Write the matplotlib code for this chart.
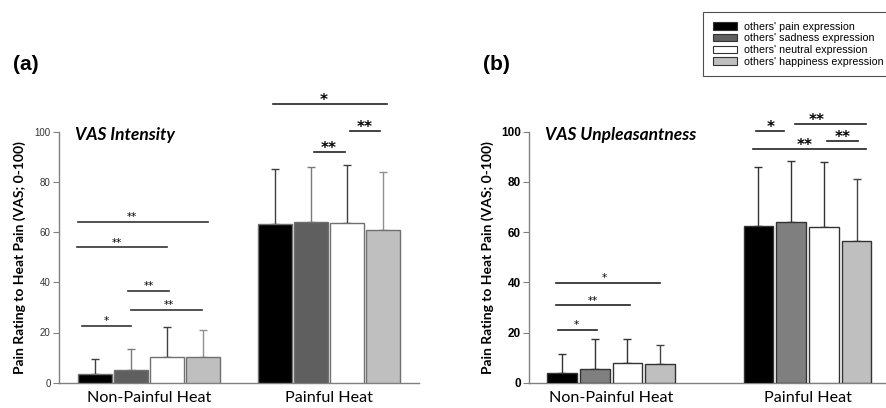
import numpy as np
import matplotlib.pyplot as plt
from matplotlib.patches import Patch

groups = ['Non-Painful Heat', 'Painful Heat']
conds = ["others' pain expression", "others' sadness expression",
         "others' neutral expression", "others' happiness expression"]

# panel (a) VAS intensity: mean and mean+SD per condition
int_np = [3.5, 5.1, 10.1, 10.1]
int_np_top = [9.3, 13.3, 22.0, 20.8]
int_p = [63.2, 63.9, 63.7, 60.8]
int_p_top = [85.0, 85.8, 86.7, 83.8]

# panel (b) VAS unpleasantness
unp_np = [3.7, 5.6, 7.7, 7.3]
unp_np_top = [11.4, 17.4, 17.3, 15.1]
unp_p = [62.5, 64.1, 61.9, 56.6]
unp_p_top = [86.1, 88.3, 87.8, 81.0]

# significance bars: (x0, x1, y, label, label x)
sig_a = [(3.44, 6.61, 110.9, '*', 4.86), (5.58, 6.42, 100.3, '**', 6.0),
         (4.58, 5.44, 92.0, '**', 5.0), (-1.97, 1.64, 64.1, '**', -0.47),
         (-2.0, 0.5, 53.9, '**', -0.88), (-0.58, 0.56, 36.7, '**', 0.0),
         (-0.5, 1.47, 29.0, '**', 0.56), (-1.86, -0.5, 22.7, '*', -1.19)]
sig_b = [(4.42, 5.29, 100.3, '*', 4.88), (5.62, 7.78, 103.1, '**', 6.27),
         (6.61, 7.55, 96.4, '**', 7.09), (4.32, 7.78, 93.0, '**', 5.9),
         (-1.67, 1.5, 39.8, '*', -0.2), (-1.67, 0.59, 30.8, '**', -0.55),
         (-1.63, -0.44, 21.1, '*', -1.06)]

fig = plt.figure(figsize=(8.86, 4.08), dpi=100)

W = 360 / 886
H = 251 / 408
B = (408 - 382.7) / 408
axa = fig.add_axes([59 / 886, B, W, H])
axb = fig.add_axes([529.3 / 886, B, W, H])

offs = np.array([-1.5, -0.5, 0.5, 1.5])


def panel(ax, np_vals, np_top, p_vals, p_top, gap, cols, edge, errc, width,
          sigs, title, bold_ticks, sigc):
    centers = [0, gap]
    for c, vals, tops in [(0, np_vals, np_top), (gap, p_vals, p_top)]:
        xs = c + offs
        vals = np.array(vals)
        tops = np.array(tops)
        for i in range(4):
            ax.bar(xs[i], vals[i], width=width, color=cols[i], edgecolor=edge,
                   linewidth=1.0, zorder=3)
            ax.errorbar(xs[i], vals[i], yerr=[[0], [tops[i] - vals[i]]],
                        fmt='none', ecolor=errc[i], elinewidth=1.0,
                        capsize=3, capthick=1.0, zorder=2)
    ax.set_xlim(-2.5, gap + 2.5)
    ax.set_ylim(0, 100)
    ax.set_yticks([0, 20, 40, 60, 80, 100])
    ax.set_xticks(centers)
    ax.set_xticklabels(groups, fontsize=11.6, family='Lato')
    ax.tick_params(axis='x', length=0, pad=6)
    for s in ['top', 'right']:
        ax.spines[s].set_visible(False)
    for s in ['left', 'bottom']:
        ax.spines[s].set_color('#808080')
        ax.spines[s].set_linewidth(1.0)
    if bold_ticks:
        ax.tick_params(axis='y', labelsize=8.5, length=4, color='#808080', pad=2)
        for t in ax.get_yticklabels():
            t.set_fontweight('bold')
            t.set_family('Liberation Sans')
    else:
        ax.tick_params(axis='y', labelsize=7, length=4, color='#808080',
                       labelcolor='#333333', pad=2)
        for t in ax.get_yticklabels():
            t.set_family('Liberation Sans')
    ax.set_ylabel('Pain Rating to Heat Pain (VAS; 0-100)', fontsize=10,
                  fontweight='bold', family='Lato')
    ax.text(0.044, 0.985, title,
            transform=ax.transAxes, fontsize=12.5, fontweight='bold',
            style='italic', family='Lato', va='center', ha='left')
    for x0, x1, y, lab, lx in sigs:
        big = y > 88
        ax.plot([x0, x1], [y, y], color='#222222' if big else sigc, lw=1.2,
                clip_on=False, zorder=4)
        ax.annotate(lab, (lx, y), xytext=(0, 2.5 if big else 3.5),
                    textcoords='offset points', ha='center', va='center',
                    fontsize=11 if big else 7.5,
                    fontweight='bold' if big else 'normal',
                    family='DejaVu Sans', annotation_clip=False)


panel(axa, int_np, int_np_top, int_p, int_p_top, 5,
      ['#000000', '#5f5f5f', '#ffffff', '#bfbfbf'], '#707070',
      ['#404040', '#7a7a7a', '#404040', '#909090'], 0.92, sig_a,
      'VAS Intensity', False, '#333333')
panel(axb, unp_np, unp_np_top, unp_p, unp_p_top, 6,
      ['#000000', '#7f7f7f', '#ffffff', '#bfbfbf'], '#333333',
      ['#333333', '#333333', '#333333', '#444444'], 0.91, sig_b,
      'VAS Unpleasantness', True, '#222222')

axa.yaxis.set_label_coords(-0.093, 0.5)
axb.yaxis.set_label_coords(-0.098, 0.5)

fig.text(13 / 886, 1 - 64 / 408, '(a)', fontsize=15, fontweight='bold',
         family='Liberation Sans', va='center', ha='left')
fig.text(483 / 886, 1 - 64 / 408, '(b)', fontsize=15, fontweight='bold',
         family='Liberation Sans', va='center', ha='left')

handles = [Patch(facecolor=c, edgecolor='#333333', linewidth=0.8)
           for c in ['#000000', '#606060', '#ffffff', '#bfbfbf']]
leg = fig.legend(handles, conds, loc='upper right',
                 bbox_to_anchor=(893 / 886, 1 - 12 / 408),
                 prop={'family': 'Liberation Sans', 'size': 7.7},
                 frameon=True, fancybox=False, edgecolor='#222222',
                 handlelength=2.25, handleheight=0.7, labelspacing=0.16,
                 handletextpad=0.65, borderpad=0.9, borderaxespad=0)
leg.get_frame().set_linewidth(0.8)

fig.savefig('out.png', dpi=100)
